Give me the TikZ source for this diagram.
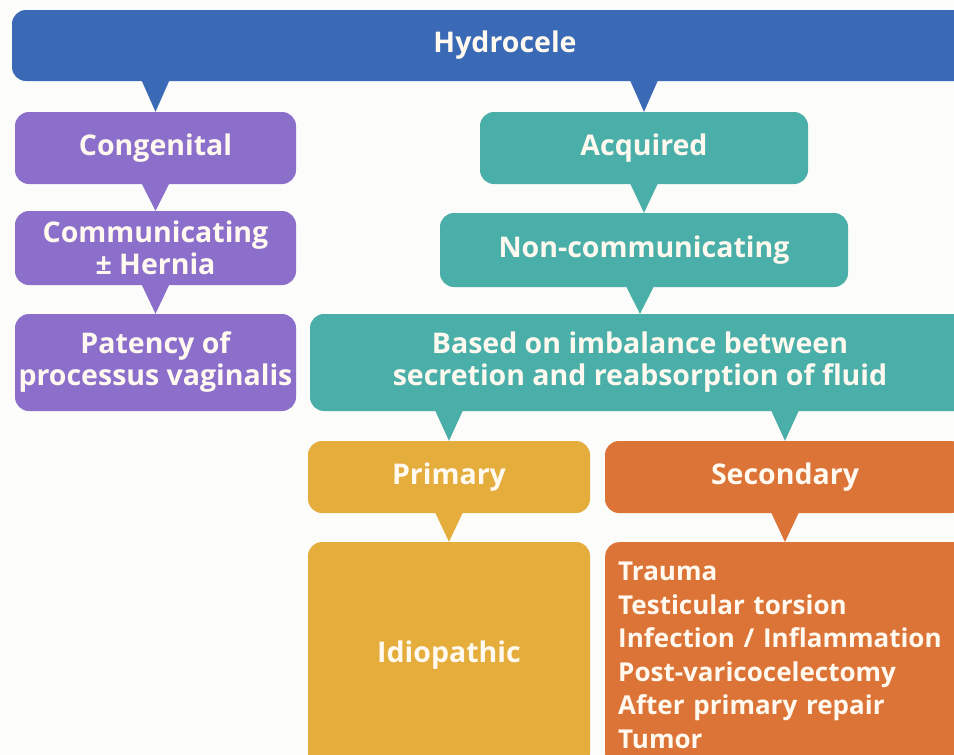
\documentclass[tikz,border=0pt]{standalone}
\usepackage{fontspec}
\setmainfont{Open Sans}

\definecolor{paper}{HTML}{FCFCFA}
\definecolor{cream}{HTML}{FFF9F0}
\definecolor{hblue}{HTML}{3A69B5}
\definecolor{hpurple}{HTML}{8C6FCB}
\definecolor{hteal}{HTML}{4AAFA8}
\definecolor{hgold}{HTML}{E4AD3C}
\definecolor{horange}{HTML}{DB7436}

% pointer triangle from a parent box down to a child box
\newcommand{\pointer}[3]{%
    \fill[#1] (#2.south -| #3.north) ++(-14pt,1pt) -- ++(28pt,0pt) -- (#3.north) -- cycle;}

\begin{document}
\begin{tikzpicture}[x=1pt, y=-1pt]

    \tikzstyle{every node}=[rounded corners=14pt, inner sep=0pt, align=center, text=cream,
        font=\bfseries\fontsize{28.5}{32}\selectfont]
    \tikzstyle{bluebox}=[fill=hblue]
    \tikzstyle{purplebox}=[fill=hpurple, minimum width=281pt]
    \tikzstyle{tealbox}=[fill=hteal]
    \tikzstyle{goldbox}=[fill=hgold, minimum width=282pt]
    \tikzstyle{orangebox}=[fill=horange]

    \useasboundingbox (0,0) rectangle (954,755);
    \clip (0,0) rectangle (954,755);
    \fill[paper] (0,0) rectangle (954,755);

    \node (hydro) [bluebox, minimum width=986pt, minimum height=71pt] at (505,45.5) {Hydrocele};

    % congenital branch
    \node (cong) [purplebox, minimum height=72pt] at (155.5,148) {Congenital};
    \node (comm) [purplebox, minimum height=74pt] at (155.5,248) {Communicating\\± Hernia};
    \node (pat) [purplebox, minimum height=97pt] at (155.5,362.5) {Patency of\\processus vaginalis};

    % acquired branch
    \node (acq) [tealbox, minimum width=328pt, minimum height=72pt] at (644,148) {Acquired};
    \node (noncomm) [tealbox, minimum width=408pt, minimum height=74pt] at (644,250) {Non-communicating};
    \node (based) [tealbox, minimum width=660pt, minimum height=97pt] at (640,362.5)
        {Based on imbalance between\\secretion and reabsorption of fluid};

    \node (prim) [goldbox, minimum height=72pt] at (449,477) {Primary};
    \node (idio) [goldbox, minimum height=226pt] at (449,655) {Idiopathic};

    \node (sec) [orangebox, minimum width=360pt, minimum height=72pt] at (785,477) {Secondary};
    \node (causes) [orangebox, anchor=north west, align=left, text width=340pt, inner xsep=13pt,
        minimum height=226pt, font=\bfseries\fontsize{26}{33.5}\selectfont] at (605,542)
        {\mbox{Trauma}\\\mbox{Testicular torsion}\\\mbox{Infection / Inflammation}\\
         \mbox{Post-varicocelectomy}\\\mbox{After primary repair}\\\mbox{Tumor}};

    \pointer{hblue}{hydro}{cong}
    \pointer{hblue}{hydro}{acq}
    \pointer{hpurple}{cong}{comm}
    \pointer{hpurple}{comm}{pat}
    \pointer{hteal}{acq}{noncomm}
    \pointer{hteal}{noncomm}{based}
    \pointer{hteal}{based}{prim}
    \pointer{hteal}{based}{sec}
    \pointer{hgold}{prim}{idio}
    \pointer{horange}{sec}{causes.north -| sec}

\end{tikzpicture}
\end{document}
